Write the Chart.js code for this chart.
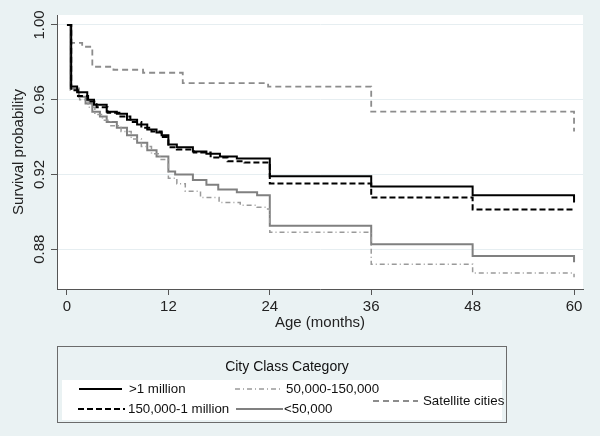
<!DOCTYPE html>
<html lang="en">
<head>
  <meta charset="UTF-8">
  <title>City Class Category survival</title>
  <style>
    body {
      margin: 0;
      background-color: #eaf2f3;
    }
    canvas {
      display: block;
    }
  </style>
</head>
<body>
  <canvas id="kmChart" width="600" height="436"></canvas>

  <script src="https://cdn.jsdelivr.net/npm/chart.js"></script>
  <script>
    // Kaplan-Meier steps: [month, survival]
    const seriesNames = [">1 million", "150,000-1 million", "50,000-150,000", "<50,000", "Satellite cities"];

    const overMillion = [
      [0, 1.0], [0.5, 0.967], [1.2, 0.964], [2.4, 0.960], [3.2, 0.9573], [4.7, 0.9536],
      [5.9, 0.9525], [7.1, 0.9493], [8.3, 0.9467], [9.5, 0.944], [10.6, 0.9424], [11.2, 0.941],
      [12, 0.936], [13, 0.9345], [14.9, 0.9323], [16.5, 0.931], [18.1, 0.9296], [20.1, 0.9285],
      [24, 0.919], [36, 0.9136], [48, 0.9088], [60, 0.905]
    ];
    const midLarge = [
      [0, 1.0], [0.5, 0.965], [1.3, 0.962], [2.5, 0.959], [3.5, 0.956], [4.8, 0.953],
      [6.2, 0.951], [7.5, 0.948], [8.8, 0.945], [10, 0.943], [11.2, 0.940], [12, 0.9345],
      [13, 0.9333], [15, 0.9317], [17, 0.929], [19, 0.927], [21, 0.9264], [24, 0.9152],
      [36, 0.9077], [48, 0.9013], [60, 0.9013]
    ];
    const midSmall = [
      [0, 1.0], [0.4, 0.965], [1.5, 0.960], [2.5, 0.956], [3.3, 0.952], [4.2, 0.949],
      [5.2, 0.946], [6.4, 0.943], [7.6, 0.939], [8.8, 0.935], [10, 0.931], [11, 0.928],
      [12, 0.918], [13, 0.915], [14, 0.911], [15.8, 0.9077], [18, 0.905], [20.5, 0.9035],
      [22.5, 0.9024], [23.5, 0.9015], [24, 0.889], [36, 0.872], [48, 0.8672], [60, 0.865]
    ];
    const underFifty = [
      [0, 1.0], [0.4, 0.966], [1.4, 0.9616], [2.2, 0.958], [3.0, 0.9536], [3.9, 0.951],
      [4.7, 0.948], [5.9, 0.945], [7.1, 0.941], [8.3, 0.937], [9.5, 0.933], [10.6, 0.9296],
      [12, 0.9216], [12.8, 0.920], [14.9, 0.917], [16.5, 0.9145], [17.9, 0.912], [20.1, 0.9104],
      [22.5, 0.9088], [24, 0.8925], [36, 0.8827], [48, 0.8763], [60, 0.873]
    ];
    const satellite = [
      [0, 1.0], [0.5, 0.9904], [1.8, 0.9883], [3.0, 0.9776], [5.5, 0.976], [9, 0.9744],
      [13.7, 0.9688], [23.8, 0.967], [36, 0.9536], [60, 0.943]
    ];

    const xTicks = [0, 12, 24, 36, 48, 60];
    const yTicks = [0.88, 0.92, 0.96, 1.00];

    const bgColor = "#eaf2f3";
    const styles = [
      { color: "#000000", width: 2, dash: [] },
      { color: "#000000", width: 2, dash: [6, 3] },
      { color: "#9a9a9a", width: 1.5, dash: [5, 3, 1, 3] },
      { color: "#808080", width: 2, dash: [] },
      { color: "#8c8c8c", width: 1.8, dash: [6, 4] }
    ];
    const allSeries = [overMillion, midLarge, midSmall, underFifty, satellite];

    const datasets = allSeries.map((s, i) => ({
      label: seriesNames[i],
      data: s.map(p => ({ x: p[0], y: p[1] })),
      borderColor: styles[i].color,
      borderWidth: styles[i].width,
      borderDash: styles[i].dash,
      stepped: true,
      pointRadius: 0,
      fill: false
    }));

    const family = "'Liberation Sans', Arial, sans-serif";
    const font = { family: family, size: 15 };

    // light blue graph region, white plot region
    const backdrop = {
      id: "backdrop",
      beforeDraw(chart) {
        const { ctx, chartArea: a } = chart;
        ctx.save();
        ctx.fillStyle = bgColor;
        ctx.fillRect(0, 0, chart.width, chart.height);
        ctx.fillStyle = "#ffffff";
        ctx.fillRect(a.left, a.top, a.right - a.left, a.bottom - a.top);
        ctx.restore();
      }
    };

    // Stata style legend box under the plot
    const legendItems = [
      { i: 0, x1: 79, x2: 122, y: 389, tx: 129 },
      { i: 2, x1: 235, x2: 280, y: 389, tx: 286 },
      { i: 1, x1: 78, x2: 125, y: 409, tx: 128 },
      { i: 3, x1: 236, x2: 283, y: 409, tx: 284 },
      { i: 4, x1: 373, x2: 418, y: 401, tx: 423 }
    ];
    const boxLegend = {
      id: "boxLegend",
      afterDraw(chart) {
        const ctx = chart.ctx;
        ctx.save();
        ctx.fillStyle = bgColor;
        ctx.fillRect(57, 346, 449, 76);
        ctx.strokeStyle = "#6b6b6b";
        ctx.lineWidth = 1;
        ctx.strokeRect(57.5, 346.5, 449, 76);
        ctx.fillStyle = "#ffffff";
        ctx.fillRect(62, 380, 440, 40);

        ctx.font = "14px " + family;
        ctx.fillStyle = "#111";
        ctx.textBaseline = "middle";
        ctx.textAlign = "center";
        ctx.fillText("City Class Category", 287, 367);

        ctx.font = "13.3px " + family;
        ctx.textAlign = "left";
        legendItems.forEach(it => {
          const st = styles[it.i];
          ctx.strokeStyle = st.color;
          ctx.lineWidth = st.width;
          ctx.setLineDash(st.dash);
          ctx.beginPath();
          ctx.moveTo(it.x1, it.y);
          ctx.lineTo(it.x2, it.y);
          ctx.stroke();
          ctx.setLineDash([]);
          ctx.fillStyle = "#111";
          ctx.fillText(seriesNames[it.i], it.tx, it.y);
        });
        ctx.restore();
      }
    };

    new Chart(document.getElementById("kmChart"), {
      type: "line",
      data: { datasets: datasets },
      options: {
        responsive: false,
        animation: false,
        layout: { padding: { top: 15, right: 17, bottom: 103, left: 0 } },
        plugins: {
          legend: { display: false },
          tooltip: { enabled: false }
        },
        scales: {
          x: {
            type: "linear",
            min: -1.18,
            max: 61.06,
            afterBuildTicks: s => { s.ticks = xTicks.map(v => ({ value: v })); },
            afterFit: s => { s.height = 44; },
            grid: { drawOnChartArea: false, tickLength: 6, tickColor: "#555" },
            border: { display: true, color: "#555", width: 1 },
            ticks: { font: font, color: "#222", padding: 3, maxRotation: 0 },
            title: { display: true, text: "Age (months)", font: font, color: "#222", padding: { top: 0, bottom: 1 } }
          },
          y: {
            min: 0.8587,
            max: 1.0053,
            afterBuildTicks: s => { s.ticks = yTicks.map(v => ({ value: v })); },
            afterFit: s => { s.width = 57; },
            grid: { color: "#e6eef1", tickLength: 6, tickColor: "#555" },
            border: { display: true, color: "#555", width: 1 },
            ticks: {
              font: font,
              color: "#222",
              minRotation: 90,
              maxRotation: 90,
              crossAlign: "center",
              padding: -3,
              callback: v => v.toFixed(2)
            },
            title: { display: true, text: "Survival probability", font: font, color: "#222", padding: { top: 10, bottom: 0 } }
          }
        }
      },
      plugins: [backdrop, boxLegend]
    });
  </script>
</body>
</html>
